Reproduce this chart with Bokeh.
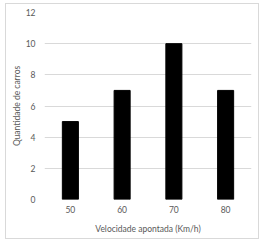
from bokeh.plotting import figure
from bokeh.models import Range1d, FactorRange, FixedTicker
from bokeh.embed import file_html
from bokeh.resources import INLINE

speeds = ["50", "60", "70", "80"]
counts = [5, 7, 10, 7]
y_ticks = [0, 2, 4, 6, 8, 10, 12]

FONT = "Lato"
GRAY = "#595959"

# figure occupies x 6..258, y 4..238 ; outline drawn just outside
p = figure(width=252, height=234, x_range=FactorRange(*speeds, range_padding=0),
           y_range=Range1d(0, 12), output_backend="svg", toolbar_location=None,
           min_border_left=38, min_border_right=7, min_border_top=8, min_border_bottom=39)
p.margin = (4, 0, 0, 6)
p.styles = {"outline": "1px solid #d9d9d9"}

p.vbar(x=speeds, top=counts, width=0.31, color="black")

p.outline_line_color = None
p.xgrid.grid_line_color = None
p.ygrid.grid_line_color = "#d9d9d9"
p.yaxis.ticker = FixedTicker(ticks=y_ticks)

for ax in (p.xaxis[0], p.yaxis[0]):
    ax.major_tick_line_color = None
    ax.minor_tick_line_color = None
    ax.major_tick_out = 0
    ax.major_tick_in = 0
    ax.minor_tick_out = 0
    ax.minor_tick_in = 0
    ax.major_label_text_font = FONT
    ax.major_label_text_font_size = "8.5px"
    ax.major_label_text_color = GRAY
    ax.axis_label_text_font = FONT
    ax.axis_label_text_font_size = "8.5px"
    ax.axis_label_text_color = GRAY
    ax.axis_label_text_font_style = "normal"

p.yaxis.axis_line_color = None
p.xaxis.axis_line_color = None
p.xaxis.axis_label = "Velocidade apontada (Km/h)"
p.yaxis.axis_label = "Quantidade de carros"
p.yaxis.major_label_standoff = 9
p.xaxis.major_label_standoff = 6
p.xaxis.axis_label_standoff = 8
p.yaxis.axis_label_standoff = 1

open("out.html", "w").write(file_html(p, INLINE))
